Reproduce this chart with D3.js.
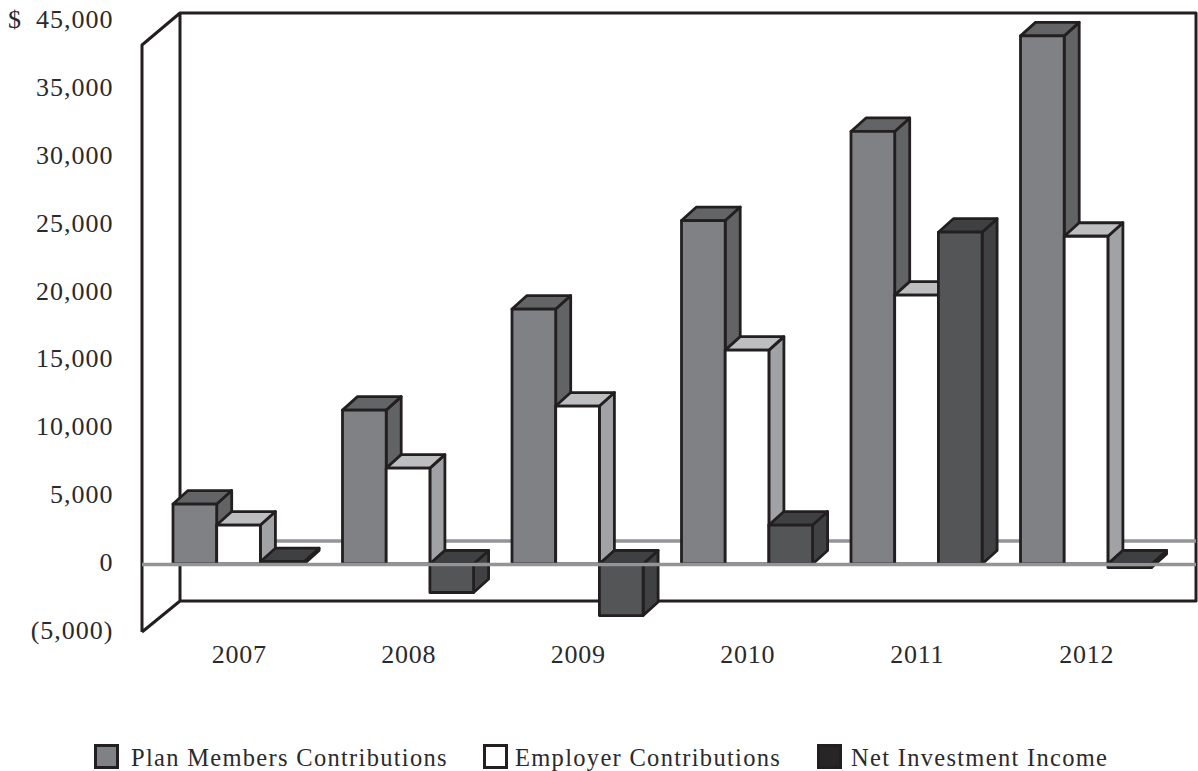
<!DOCTYPE html>
<html><head><meta charset="utf-8">
<script src="https://cdn.jsdelivr.net/npm/d3@7"></script>
<style>html,body{margin:0;padding:0;background:#fff}svg{display:block}text{font-family:"Liberation Serif",serif;fill:#2b2a2b}</style>
</head><body><svg id="c" width="1198" height="771"></svg>
<script>
const years = ["2007","2008","2009","2010","2011","2012"];
const seriesNames = ["Plan Members Contributions","Employer Contributions","Net Investment Income"];
const planMembers = [4420,11350,18800,25330,31900,38950];
const employer = [2870,7070,11650,15770,19830,24170];
const netInvestment = [170,-2100,-3800,2870,24470,-260];
const tickValues = [-5000,0,5000,10000,15000,20000,25000,30000,35000,40000];
const tickLabels = ["(5,000)","0","5,000","10,000","15,000","20,000","25,000","30,000","35,000","45,000"];
const fronts = ["#808184","#ffffff","#545557"];
const sides = ["#626365","#a1a2a5","#404143"];
const tops = ["#636466","#bcbec0","#3f4042"];
const legendFills = ["#808184","#ffffff","#272627"];

const W=1198,H=771,ink="#231f20",gridC="#929497";
const svg=d3.select("#c");
const y=d3.scaleLinear().domain([0,5000]).range([564,496.2]);
const x0=d3.scaleBand().domain(years).range([153.5,1170.5]);
const x1=d3.scaleBand().domain(d3.range(3)).range([19.5,150.6]);
const depthX=15,depthY=13.5;
const wall={l:142,r:1196,bx:180,top:45,btop:13,bot:632,bbot:601};

// walls
svg.append("path").attr("fill","none").attr("stroke",ink).attr("stroke-width",3).attr("stroke-linejoin","round")
 .attr("d",`M${wall.l},${wall.bot}V${wall.top}L${wall.bx},${wall.btop}H${wall.r}V${wall.bbot}H${wall.bx}L${wall.l},${wall.bot}M${wall.bx},${wall.btop}V${wall.bbot}`);
// back zero line
svg.append("line").attr("x1",wall.bx).attr("x2",wall.r).attr("y1",y(0)-23).attr("y2",y(0)-23).attr("stroke",gridC).attr("stroke-width",3.5);

// bars
const all=[planMembers,employer,netInvestment];
years.forEach((yr,i)=>{
  const g=svg.append("g").attr("transform",`translate(${x0(yr)},0)`);
  all.forEach((vals,s)=>{
    const v=vals[i],a=x1(s),b=a+x1.bandwidth();
    const t=y(Math.max(v,0)),bo=y(Math.min(v,0));
    const st={stroke:ink,"stroke-width":2.8,"stroke-linejoin":"round"};
    const shape=(d,f)=>{const p=g.append("path").attr("d",d).attr("fill",f);Object.entries(st).forEach(([k,w])=>p.attr(k,w));};
    shape(`M${b},${t}L${b+depthX},${t-depthY}V${bo-depthY}L${b},${bo}Z`,sides[s]);
    shape(`M${a},${t}L${a+depthX},${t-depthY}H${b+depthX}L${b},${t}Z`,tops[s]);
    shape(`M${a},${t}H${b}V${bo}H${a}Z`,fronts[s]);
  });
});
// front zero line
svg.append("line").attr("x1",wall.l).attr("x2",wall.r).attr("y1",y(0)+0.5).attr("y2",y(0)+0.5).attr("stroke",gridC).attr("stroke-width",3.5);

// axes
const yAxis=d3.axisLeft(y).tickValues(tickValues).tickSize(0).tickPadding(0)
 .tickFormat((d,i)=>tickLabels[i]);
const ga=svg.append("g").attr("transform","translate(113.5,-2)").call(yAxis);
ga.select(".domain").remove();
ga.selectAll("text").attr("font-size",26).attr("letter-spacing",1);
svg.append("text").attr("x",8).attr("y",28).attr("font-size",26).text("$");

const xAxis=d3.axisBottom(x0).tickSize(0).tickPadding(0);
const gx=svg.append("g").attr("transform","translate(1,643)").call(xAxis);
gx.select(".domain").remove();
gx.selectAll("text").attr("font-size",26).attr("letter-spacing",0.8).attr("dy","0.78em");
svg.selectAll("g").attr("font-family",null);

// legend
const legX=[94,483,817],txtX=[131,515,851];
seriesNames.forEach((n,i)=>{
  svg.append("rect").attr("x",legX[i]+1.5).attr("y",745.5).attr("width",22).attr("height",22).attr("fill",legendFills[i]).attr("stroke",ink).attr("stroke-width",3);
  svg.append("text").attr("x",txtX[i]).attr("y",765.5).attr("font-size",24.5).attr("letter-spacing",1.3).text(n);
});
</script></body></html>
